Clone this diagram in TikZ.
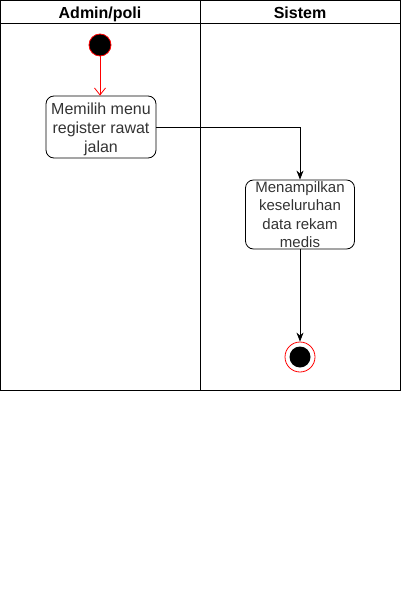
\documentclass[tikz,border=0pt]{standalone}
\usepackage{fontspec}
\setmainfont{Liberation Sans}
\usetikzlibrary{arrows.meta}
\begin{document}
\begin{tikzpicture}[x=1pt,y=-1pt,
  lane/.style={draw=black,line width=0.8pt},
  act/.style={draw=black,rounded corners=8pt,line width=0.8pt,align=center,inner sep=0pt,
    font=\fontsize{15}{18.5}\selectfont,text=black!80},
  acttext/.style={align=center,inner sep=0pt,text=black!80},
  hdr/.style={font=\bfseries\fontsize{16}{18}\selectfont,anchor=base},
  flow/.style={draw=black,line width=0.8pt,-{Stealth[length=9pt,width=7pt]}},
  redflow/.style={draw=red,line width=0.8pt,-{Straight Barb[length=7pt,width=11pt]}}]
\useasboundingbox (0,0) rectangle (401,591);
\draw[lane] (0.5,0.5) rectangle (400.5,390);
\draw[lane] (0.5,23) -- (400.5,23);
\draw[lane] (200.5,0.5) -- (200.5,390);
\node[hdr] (h1) at (100,19) {Admin/poli};
\node[hdr] (h2) at (300,19) {Sistem};
\node[circle,fill=black,draw=red,line width=0.8pt,minimum size=22pt,inner sep=0pt] (start) at (100,45) {};
\node[act,minimum width=110pt,minimum height=62pt] (a1) at (101,127) {};
\node[acttext,font=\fontsize{16}{19}\selectfont] (a1t) at (101,129) {Memilih menu\\register rawat\\jalan};
\node[act,minimum width=109pt,minimum height=69pt] (a2) at (300,214.5) {Menampilkan\\keseluruhan\\data rekam\\medis};
\node[circle,draw=red,line width=0.8pt,minimum size=30pt,inner sep=0pt] (end) at (300,357) {};
\node[circle,fill=black,minimum size=21pt,inner sep=0pt] (endin) at (300,357) {};
\draw[redflow] (start) -- (start|-a1.north);
\draw[flow] (a1.east) -| (a2.north);
\draw[flow] (a2.south) -- (end.north);
\end{tikzpicture}
\end{document}
